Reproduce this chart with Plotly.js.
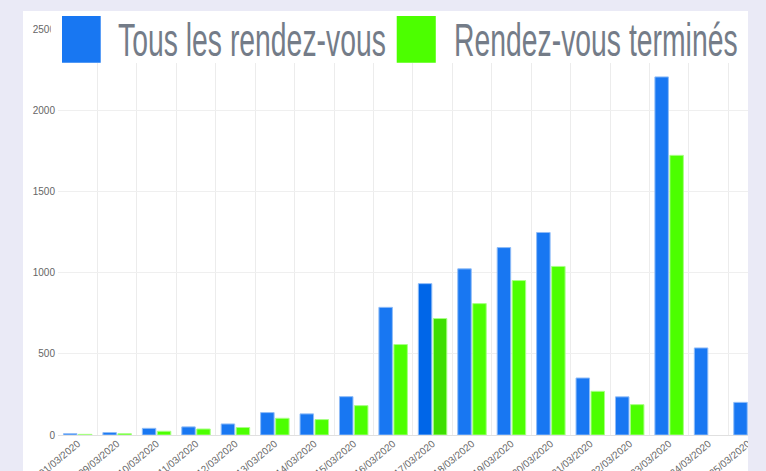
<!DOCTYPE html>
<html>
<head>
<meta charset="utf-8">
<script src="https://cdn.plot.ly/plotly-3.0.1.min.js"></script>
<style>
  html, body { margin: 0; padding: 0; width: 766px; height: 471px; overflow: hidden; background: #eaeaf6; }
  #chart { position: absolute; left: 23px; top: 11px; width: 725px; height: 460px; background: #ffffff; }
</style>
</head>
<body>
<div id="chart"></div>
<script>
const categories = ['01/03/2020','09/03/2020','10/03/2020','11/03/2020','12/03/2020','13/03/2020',
  '14/03/2020','15/03/2020','16/03/2020','17/03/2020','18/03/2020','19/03/2020','20/03/2020',
  '21/03/2020','22/03/2020','23/03/2020','24/03/2020','25/03/2020'];
const seriesNames = ['Tous les rendez-vous', 'Rendez-vous terminés'];
const tousValues = [8, 15, 41, 50, 68, 138, 130, 236, 786, 932, 1023, 1154, 1247, 351, 235, 2205, 536, 201];
const terminesValues = [4, 8, 23, 37, 46, 103, 95, 181, 557, 717, 809, 951, 1038, 269, 187, 1722, null, null];
const yTickValues = [0, 500, 1000, 1500, 2000, 2500];
const hoveredCategory = '17/03/2020';

const blue = '#1877f2', blueHover = '#0066e8';
const green = '#4cff00', greenHover = '#3ddf00';

const blueColors = categories.map(c => c === hoveredCategory ? blueHover : blue);
const greenColors = categories.map(c => c === hoveredCategory ? greenHover : green);

const traces = [
  { type: 'bar', name: seriesNames[0], x: categories, y: tousValues,
    marker: { color: blueColors, line: { color: '#8fbcf7', width: 1 } } },
  { type: 'bar', name: seriesNames[1], x: categories, y: terminesValues,
    marker: { color: greenColors, line: { color: '#a8ff85', width: 1 } } }
];

const legendColors = [blue, green];
const swatchX = [[0.0058, 0.0619], [0.4909, 0.5475]];
const textX = [0.0841, 0.5706];

const shapes = [
  { type: 'rect', xref: 'paper', yref: 'paper', x0: -0.0105, x1: 1.0, y0: 0.9163, y1: 1.05,
    fillcolor: '#ffffff', line: { width: 0 }, layer: 'above' }
];
const annotations = [];
seriesNames.forEach((n, i) => {
  shapes.push({ type: 'rect', xref: 'paper', yref: 'paper', x0: swatchX[i][0], x1: swatchX[i][1],
    y0: 0.917, y1: 1.032, fillcolor: legendColors[i], line: { width: 0 }, layer: 'above' });
  annotations.push({ text: n, xref: 'paper', yref: 'paper', x: textX[i], y: 0.975,
    xanchor: 'left', yanchor: 'middle', showarrow: false,
    font: { family: 'Liberation Sans, Arial, sans-serif', size: 35, color: '#747c88' } });
});

const layout = {
  width: 725, height: 460,
  margin: { l: 35, r: 0, t: 18, b: 36 },
  paper_bgcolor: '#ffffff', plot_bgcolor: '#ffffff',
  showlegend: false,
  barmode: 'group', bargap: 0.24, bargroupgap: 0.1,
  xaxis: {
    type: 'category', range: [-0.5, 17.0], tickson: 'boundaries', ticks: '',
    tickangle: -40, showgrid: true, gridcolor: '#ececec', gridwidth: 1,
    showline: false, zeroline: false, automargin: false,
    tickfont: { family: 'Liberation Sans, Arial, sans-serif', size: 10, color: '#666666' }
  },
  yaxis: {
    range: [0, 2500], tickvals: yTickValues, ticktext: yTickValues.map(String), ticks: '',
    ticklabelstandoff: 2,
    showgrid: true, gridcolor: '#efefef', zeroline: true, zerolinecolor: '#e0e0e0', zerolinewidth: 1,
    showline: false, automargin: false,
    tickfont: { family: 'Liberation Sans, Arial, sans-serif', size: 10, color: '#666666' }
  },
  shapes: shapes,
  annotations: annotations
};

Plotly.newPlot('chart', traces, layout, { displayModeBar: false, staticPlot: true }).then(() => {
  document.querySelectorAll('#chart .annotation-text').forEach(t => {
    t.style.transformBox = 'fill-box';
    t.style.transformOrigin = 'left center';
    t.style.transform = 'scale(0.81, 1.32)';
  });
});
</script>
</body>
</html>
